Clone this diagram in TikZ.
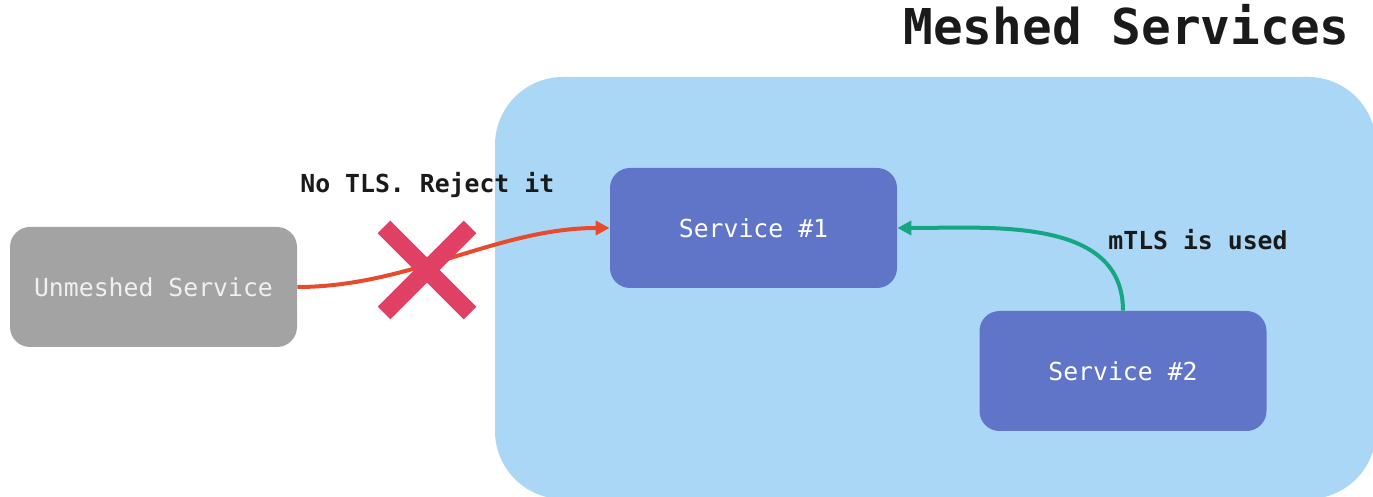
\documentclass[tikz,border=0pt]{standalone}
\usepackage{fontspec}
\setmonofont{DejaVu Sans Mono}
\usetikzlibrary{arrows.meta}
\definecolor{meshbg}{RGB}{170,215,246}
\definecolor{svcblue}{RGB}{97,117,200}
\definecolor{unmeshgray}{RGB}{163,163,163}
\definecolor{rejectred}{RGB}{232,74,44}
\definecolor{crossred}{RGB}{224,64,100}
\definecolor{mtlsgreen}{RGB}{22,166,132}
\definecolor{inkblack}{RGB}{26,26,26}
\tikzset{
  svcbox/.style={fill=svcblue, rounded corners=10pt, minimum width=143.5pt, minimum height=60pt,
    inner sep=0pt, text=white, font=\ttfamily\fontsize{12.4}{14}\selectfont},
  graybox/.style={svcbox, fill=unmeshgray, text=white!94!black},
  lbl/.style={inner sep=0pt, text=inkblack, font=\ttfamily\bfseries\fontsize{12.4}{14}\selectfont},
  conn/.style={line width=2pt, -{Triangle[length=7pt,width=7pt]}},
}
\begin{document}
\begin{tikzpicture}[x=0.5pt,y=-0.5pt]
\useasboundingbox (0,0) rectangle (1373,497);
\clip (0,0) rectangle (1373,497);
\node[fill=meshbg, rounded corners=34pt, minimum width=440.5pt, minimum height=211pt, inner sep=0pt] (mesh) at (935.5,288) {};
\node[lbl, font=\ttfamily\bfseries\fontsize{24.7}{28}\selectfont, anchor=base east] (title) at (1350,45) {Meshed Services};
\node[graybox] (u) at (153.5,287) {Unmeshed Service};
\node[svcbox] (s1) at (753.5,228) {Service \#1};
\node[svcbox] (s2) at (1123,371) {Service \#2};
\node[lbl, anchor=base west] (reject) at (300,193) {No TLS. Reject it};
\node[lbl, anchor=base west] (mtls) at (1108,250) {mTLS is used};
\draw[conn, rejectred] (u.east) to[out=0, in=180, looseness=0.9] (s1.west);
\draw[crossred, line width=9pt] (384,227) -- (470,313) (470,227) -- (384,313);
\draw[conn, mtlsgreen] (s2.north) to[out=90, in=0, looseness=1.0] (s1.east);
\end{tikzpicture}
\end{document}
